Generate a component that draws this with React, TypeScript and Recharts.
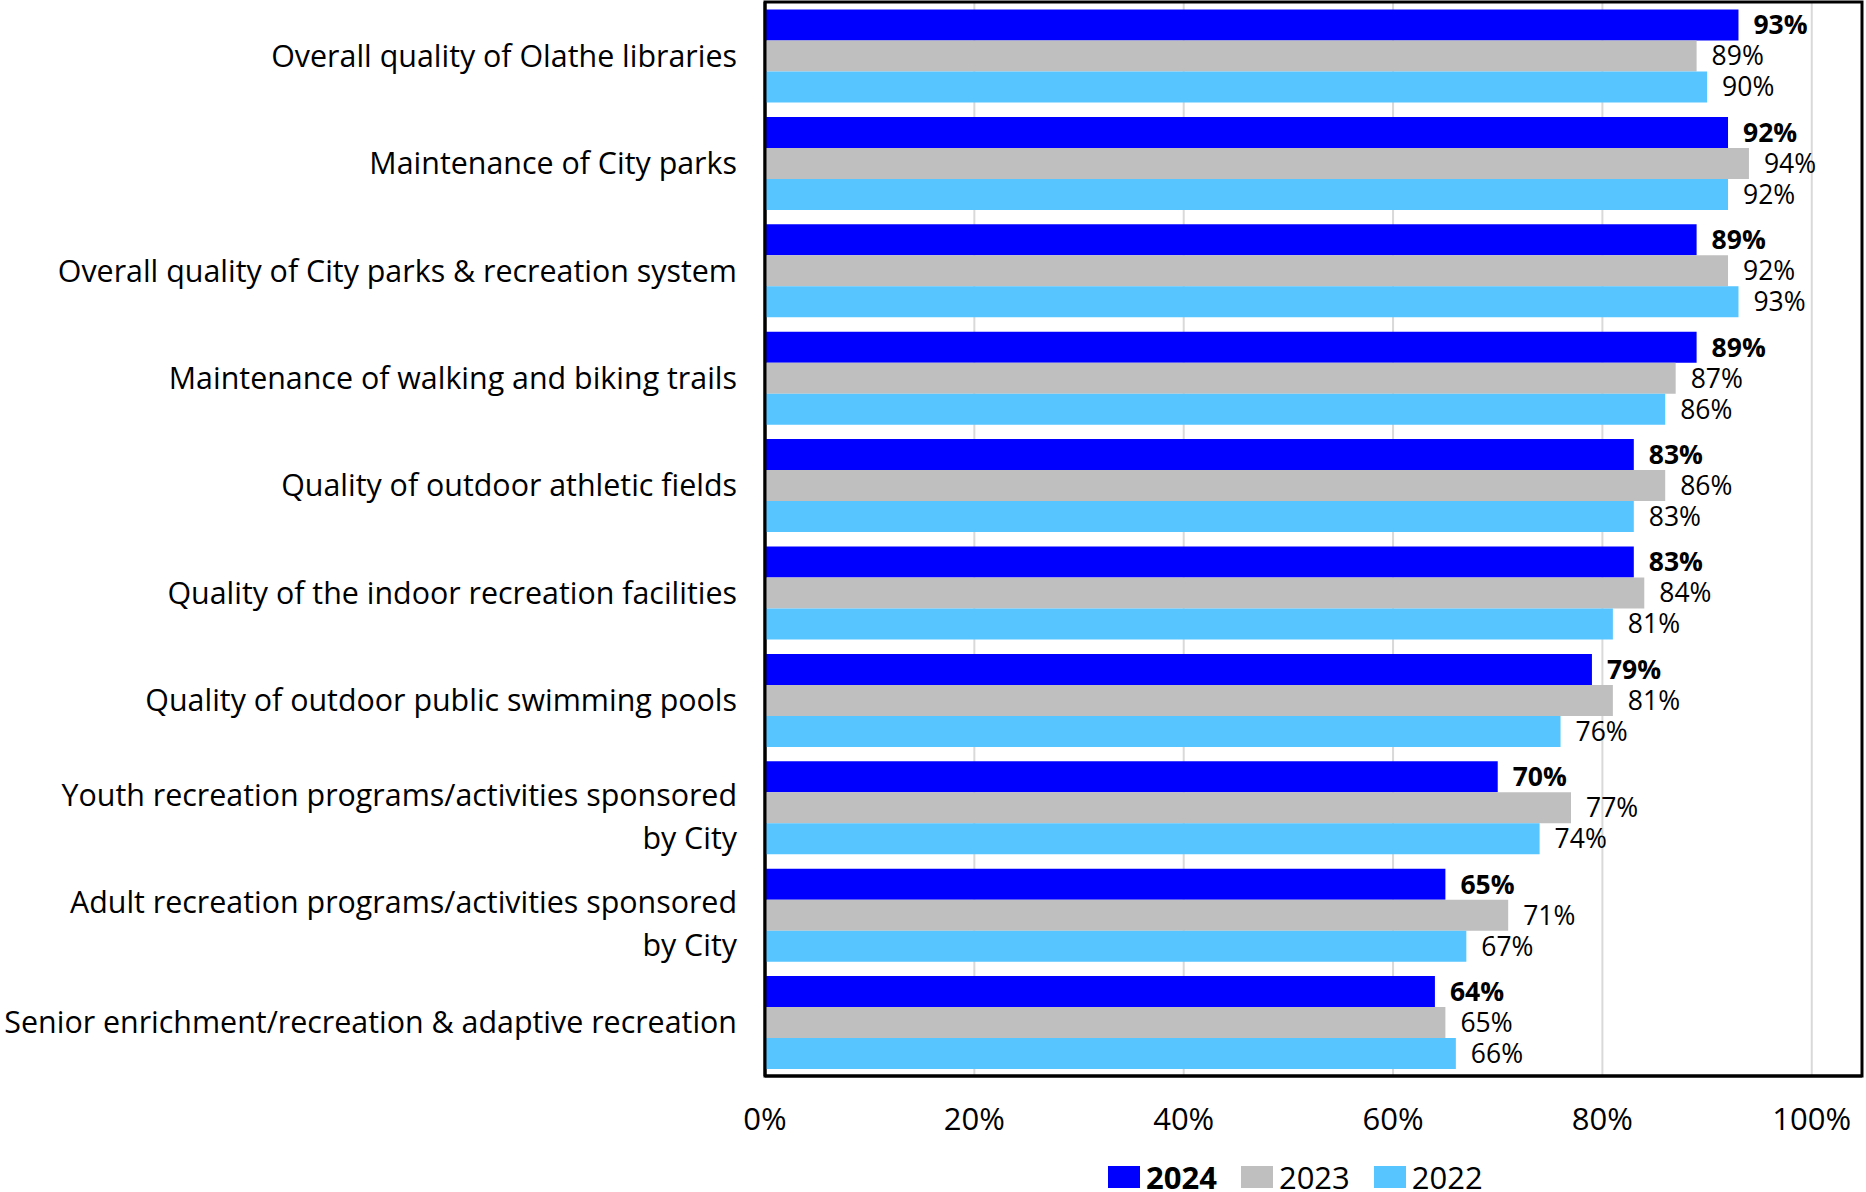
import React from 'react';
import { BarChart, Bar, XAxis, YAxis, CartesianGrid, LabelList, ReferenceArea, Legend } from 'recharts';

const categories = [
  'Overall quality of Olathe libraries',
  'Maintenance of City parks',
  'Overall quality of City parks & recreation system',
  'Maintenance of walking and biking trails',
  'Quality of outdoor athletic fields',
  'Quality of the indoor recreation facilities',
  'Quality of outdoor public swimming pools',
  'Youth recreation programs/activities sponsored\nby City',
  'Adult recreation programs/activities sponsored\nby City',
  'Senior enrichment/recreation & adaptive recreation',
];

const values2024 = [93, 92, 89, 89, 83, 83, 79, 70, 65, 64];
const values2023 = [89, 94, 92, 87, 86, 84, 81, 77, 71, 65];
const values2022 = [90, 92, 93, 86, 83, 81, 76, 74, 67, 66];

const seriesNames = ['2024', '2023', '2022'];
const xTicks = [0, 20, 40, 60, 80, 100];

const data = categories.map((name, i) => ({
  name,
  y2024: values2024[i],
  y2023: values2023[i],
  y2022: values2022[i],
}));

const FONT = '"Open Sans", "Noto Sans", sans-serif';
const C2024 = '#0000FF';
const C2023 = '#BFBFBF';
const C2022 = '#57C5FF';

const CategoryTick = (props: any) => {
  const { x, y, payload } = props;
  const lines: string[] = String(payload.value).split('\n');
  const lh = 43;
  const first = lines.length > 1 ? -((lines.length - 1) * lh) / 2 + 9 + 11 : 11;
  return (
    <text x={x} y={y} textAnchor="end" fontSize={30.4} fill="#000" fontFamily={FONT}>
      {lines.map((l, i) => (
        <tspan key={i} x={x} dy={i === 0 ? first : lh}>
          {l}
        </tspan>
      ))}
    </text>
  );
};

const LegendContent = (props: any) => {
  const { payload } = props;
  const items = [...(payload || [])].sort(
    (a: any, b: any) => seriesNames.indexOf(String(a.value)) - seriesNames.indexOf(String(b.value))
  );
  return (
    <div style={{ display: 'flex', flexDirection: 'row', fontFamily: FONT, fontSize: 31, lineHeight: '22px', height: 22 }}>
      {items.map((p: any) => (
        <div key={p.value} style={{ display: 'flex', alignItems: 'flex-start', marginRight: 24 }}>
          <div style={{ width: 32, height: 22, background: p.color, marginRight: 6 }} />
          <span style={{ fontWeight: p.value === '2024' ? 700 : 400, color: '#000', whiteSpace: 'nowrap' }}>{p.value}</span>
        </div>
      ))}
    </div>
  );
};

const pct = (v: any) => `${v}%`;

export default function App() {
  return (
    <div style={{ width: 1866, height: 1192, background: '#fff' }}>
      <style>{'body{margin:0;background:#fff}'}</style>
      <BarChart
        width={1866}
        height={1192}
        data={data}
        layout="vertical"
        margin={{ top: 2, right: 4, bottom: 0, left: 0 }}
        barCategoryGap="7%"
        barGap={0}
        style={{ fontFamily: FONT }}
      >
        <CartesianGrid horizontal={false} vertical stroke="#D9D9D9" strokeWidth={2} />
        <XAxis
          type="number"
          domain={[0, 104.8]}
          ticks={xTicks}
          tickFormatter={pct}
          allowDataOverflow
          height={116}
          tickLine={false}
          tickSize={0}
          tickMargin={32}
          axisLine={{ stroke: '#000', strokeWidth: 3 }}
          tick={{ fontSize: 31, fill: '#000', fontFamily: FONT }}
        />
        <YAxis
          type="category"
          dataKey="name"
          width={765}
          tickLine={false}
          tickSize={0}
          tickMargin={28}
          axisLine={{ stroke: '#000', strokeWidth: 3 }}
          tick={<CategoryTick />}
          interval={0}
        />
        <Bar dataKey="y2024" name="2024" fill={C2024} isAnimationActive={false}>
          <LabelList dataKey="y2024" position="right" offset={15} formatter={pct} fill="#000" fontSize={26.5} fontWeight={700} fontFamily={FONT} />
        </Bar>
        <Bar dataKey="y2023" name="2023" fill={C2023} isAnimationActive={false}>
          <LabelList dataKey="y2023" position="right" offset={15} formatter={pct} fill="#000" fontSize={26.5} fontFamily={FONT} />
        </Bar>
        <Bar dataKey="y2022" name="2022" fill={C2022} isAnimationActive={false}>
          <LabelList dataKey="y2022" position="right" offset={15} formatter={pct} fill="#000" fontSize={26.5} fontFamily={FONT} />
        </Bar>
        <ReferenceArea x1={0} x2={104.8} fill="none" stroke="#000" strokeWidth={3} ifOverflow="visible" />
        <Legend
          verticalAlign="middle"
          align="center"
          layout="horizontal"
          content={<LegendContent />}
          wrapperStyle={{ top: 1166, left: 1108, width: 500, height: 22 }}
        />
      </BarChart>
    </div>
  );
}
